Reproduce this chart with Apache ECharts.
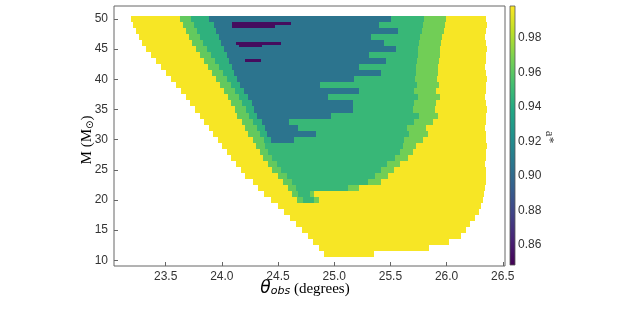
<!DOCTYPE html>
<html><head><meta charset="utf-8">
<script src="https://cdn.jsdelivr.net/npm/echarts@6/dist/echarts.min.js"></script>
<style>html,body{margin:0;padding:0;background:#fff}#c{width:628px;height:319px}</style>
</head><body><div id="c"></div>
<script>
// ---- data (rows of the M grid, theta extents in degrees) ----
const mass = [50,49,48,47,46,45,44,43,42,41,40,39,38,37,36,35,34,33,32,31,30,29,28,27,26,25,24,23,22,21,20,19,18,17,16,15,14,13,12,11];
const outerL = [23.189,23.207,23.234,23.260,23.287,23.322,23.367,23.411,23.456,23.500,23.544,23.589,23.633,23.678,23.713,23.758,23.802,23.837,23.882,23.917,23.962,23.997,24.042,24.077,24.122,24.166,24.210,24.273,24.326,24.379,24.441,24.504,24.557,24.610,24.663,24.717,24.770,24.814,24.868,24.912];
const outerR = [26.35,26.36,26.35,26.34,26.35,26.36,26.35,26.35,26.34,26.35,26.36,26.35,26.35,26.34,26.35,26.36,26.35,26.35,26.34,26.35,26.35,26.36,26.35,26.35,26.34,26.35,26.35,26.35,26.342,26.333,26.324,26.306,26.289,26.253,26.209,26.173,26.129,26.022,25.845,25.356];
const innerL = [23.624,23.651,23.678,23.704,23.731,23.766,23.802,23.837,23.873,23.909,23.944,23.980,24.015,24.051,24.077,24.113,24.139,24.175,24.210,24.237,24.273,24.308,24.335,24.370,24.415,24.450,24.504,24.548,24.592,24.628,24.672,null,null,null,null,null,null,null,null,null];
const innerR = [25.996,25.987,25.978,25.960,25.951,25.942,25.942,25.933,25.925,25.925,25.916,25.933,25.907,25.942,25.907,25.898,25.925,25.880,25.818,25.836,25.791,25.729,25.702,25.658,25.587,25.534,25.480,25.418,25.223,24.823,24.868,null,null,null,null,null,null,null,null,null];
const lightL = [23.724,23.751,23.778,23.804,23.831,23.866,23.902,23.937,23.973,24.009,24.044,24.080,24.115,24.151,24.177,24.213,24.239,24.275,24.310,24.337,24.373,24.388,24.415,24.450,24.495,24.530,24.584,24.628,24.66,24.68,24.72,null,null,null,null,null,null,null,null,null];
const lightR = [25.796,25.787,25.778,25.760,25.751,25.742,25.742,25.733,25.725,25.725,25.716,25.733,25.707,25.742,25.707,25.698,25.755,25.710,25.648,25.666,25.621,25.609,25.582,25.538,25.467,25.414,25.360,25.298,25.12,24.78,24.82,null,null,null,null,null,null,null,null,null];
const coreL = [23.882,23.926,23.944,23.971,23.988,24.015,24.042,24.060,24.086,24.104,24.131,24.157,24.193,24.237,24.264,24.282,24.317,24.353,24.388,24.406,24.441,null,null,null,null,null,null,null,null,null,null,null,null,null,null,null,null,null,null,null];
const coreR = [25.507,25.401,25.569,25.330,25.445,25.552,25.312,25.463,25.223,25.418,25.179,24.877,25.223,24.948,25.170,25.170,24.974,24.601,24.681,24.841,24.646,null,null,null,null,null,null,null,null,null,null,null,null,null,null,null,null,null,null,null];
// spin values of each band
const valYellow = 0.997, valLightL = 0.962, valMidL = 0.944, valCore = 0.906, valMidR = 0.948, valLightR = 0.966, valPurple = 0.853;
// thin purple streaks: [M, theta start, theta end]
const purpleStreaks = [[49.25,24.086,24.619],[48.7,24.086,24.477],[46.0,24.122,24.530],[45.55,24.15,24.353],[43.1,24.21,24.344]];
const xTicks = [23.5,24.0,24.5,25.0,25.5,26.0,26.5];
const yTicks = [10,15,20,25,30,35,40,45,50];
const cbTicks = [0.86,0.88,0.90,0.92,0.94,0.96,0.98];
const cbMin = 0.8484, cbMax = 0.9984;

const viridis = ['#440154','#482475','#414487','#355f8d','#2a788e','#21918c','#22a884','#44bf70','#7ad151','#bddf26','#fde725'];

const segs = [];
mass.forEach((m, i) => {
  if (innerL[i] == null) { segs.push([m, outerL[i], outerR[i], valYellow]); return; }
  segs.push([m, outerL[i], innerL[i], valYellow]);
  segs.push([m, innerL[i], lightL[i], valLightL]);
  if (coreL[i] != null) {
    segs.push([m, lightL[i], coreL[i], valMidL]);
    segs.push([m, coreL[i], coreR[i], valCore]);
    segs.push([m, coreR[i], lightR[i], valMidR]);
  } else {
    segs.push([m, lightL[i], lightR[i], valMidR]);
  }
  segs.push([m, lightR[i], innerR[i], valLightR]);
  segs.push([m, innerR[i], outerR[i], valYellow]);
});
const streakData = purpleStreaks.map(s => [s[0], s[1], s[2], valPurple]);

function makeRender(halfH) {
  return function (params, api) {
    const m = api.value(0), t0 = api.value(1), t1 = api.value(2);
    const a = api.coord([t0, m + halfH]);
    const b = api.coord([t1, m - halfH]);
    const x0 = Math.round(a[0]), x1 = Math.round(b[0]);
    const y0 = Math.round(a[1]), y1 = Math.round(b[1]);
    return { type: 'rect', shape: { x: x0, y: y0, width: x1 - x0, height: y1 - y0 },
             style: { fill: api.visual('color') } };
  };
}

const chart = echarts.init(document.getElementById('c'), null, { renderer: 'canvas' });
const tickFont = { fontFamily: 'Liberation Sans, Arial, sans-serif', fontSize: 12, color: '#333' };
chart.setOption({
  animation: false,
  backgroundColor: '#fff',
  grid: [
    { left: 114, top: 6, width: 391, height: 260, show: true, borderColor: '#666', borderWidth: 1, backgroundColor: 'transparent' },
    { left: 510, top: 6, width: 5, height: 259, show: false }
  ],
  xAxis: [
    { type: 'value', gridIndex: 0, min: 23.04, max: 26.52, splitLine: { show: false },
      axisLine: { show: false },
      axisTick: { show: true, inside: true, length: 4, customValues: xTicks, lineStyle: { color: '#666' } },
      axisLabel: Object.assign({ customValues: xTicks, margin: 5, formatter: v => v.toFixed(1) }, tickFont) },
    { type: 'value', gridIndex: 1, show: false, min: 0, max: 1 }
  ],
  yAxis: [
    { type: 'value', gridIndex: 0, min: 9.05, max: 52.16, splitLine: { show: false },
      axisLine: { show: false },
      axisTick: { show: true, inside: true, length: 4, customValues: yTicks, lineStyle: { color: '#666' } },
      axisLabel: Object.assign({ customValues: yTicks, margin: 6, formatter: v => String(v) }, tickFont) },
    { type: 'value', gridIndex: 1, position: 'right', min: cbMin, max: cbMax, splitLine: { show: false },
      axisLine: { show: false }, axisTick: { show: false },
      axisLabel: Object.assign({ customValues: cbTicks, margin: 3, formatter: v => v.toFixed(2) }, tickFont) }
  ],
  visualMap: { show: false, type: 'continuous', min: cbMin, max: cbMax, dimension: 3, seriesIndex: [0, 1],
               inRange: { color: viridis } },
  series: [
    { type: 'custom', xAxisIndex: 0, yAxisIndex: 0, renderItem: makeRender(0.5), data: segs,
      encode: { x: [1, 2], y: 0 }, clip: true },
    { type: 'custom', xAxisIndex: 0, yAxisIndex: 0, renderItem: makeRender(0.25), data: streakData,
      encode: { x: [1, 2], y: 0 }, clip: true, z: 3 }
  ],
  graphic: [
    { type: 'rect', shape: { x: 510, y: 6, width: 5, height: 259 },
      style: { fill: new echarts.graphic.LinearGradient(0, 1, 0, 0,
        viridis.map((c, i) => ({ offset: i / (viridis.length - 1), color: c }))), stroke: '#555', lineWidth: 0.8 } },
    { type: 'text', x: 305, y: 287,
      style: { text: '{t|θ}{s|obs}{d| (degrees)}', align: 'center', verticalAlign: 'middle',
        rich: {
          t: { fontFamily: 'DejaVu Sans', fontStyle: 'italic', fontSize: 17, color: '#222', verticalAlign: 'bottom', lineHeight: 20 },
          s: { fontFamily: 'DejaVu Sans', fontStyle: 'italic', fontSize: 11, color: '#222', verticalAlign: 'bottom', lineHeight: 14 },
          d: { fontFamily: 'Liberation Serif, Times New Roman, serif', fontSize: 15, color: '#222', verticalAlign: 'bottom', lineHeight: 20 }
        } } },
    { type: 'text', x: 86, y: 140, rotation: Math.PI / 2,
      style: { text: '{m|M (M}{s|⊙}{m|)}', align: 'center', verticalAlign: 'middle',
        rich: {
          m: { fontFamily: 'Liberation Serif, Times New Roman, serif', fontSize: 15, color: '#222', verticalAlign: 'bottom', lineHeight: 18 },
          s: { fontFamily: 'DejaVu Sans', fontSize: 10, color: '#222', verticalAlign: 'bottom', lineHeight: 13 }
        } } },
    { type: 'text', x: 549, y: 137, rotation: -Math.PI / 2,
      style: { text: 'a*', align: 'center', verticalAlign: 'middle',
        fontFamily: 'Liberation Serif, Times New Roman, serif', fontSize: 13, fill: '#333' } }
  ]
});
</script>
</body></html>
